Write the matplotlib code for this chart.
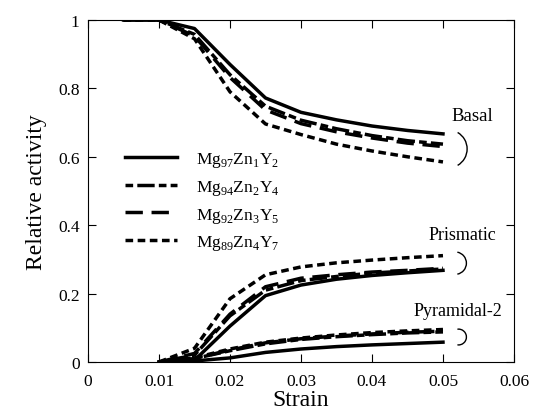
import matplotlib.pyplot as plt
import numpy as np
from matplotlib.patches import Arc
from matplotlib.transforms import ScaledTranslation
from matplotlib.ticker import FormatStrFormatter, MultipleLocator

plt.rcParams['font.family'] = ['Liberation Serif', 'DejaVu Serif']
plt.rcParams['mathtext.fontset'] = 'custom'
plt.rcParams['mathtext.rm'] = 'Liberation Serif'

# strain points
strain = [0.005, 0.01, 0.015, 0.02, 0.025, 0.03, 0.035, 0.04, 0.045, 0.05]
strain_np = [0.01, 0.015, 0.02, 0.025, 0.03, 0.035, 0.04, 0.045, 0.05]

alloys = ['Mg$_{97}$Zn$_{1}$Y$_{2}$', 'Mg$_{94}$Zn$_{2}$Y$_{4}$',
          'Mg$_{92}$Zn$_{3}$Y$_{5}$', 'Mg$_{89}$Zn$_{4}$Y$_{7}$']

# basal
basal = [
    [1.0, 1.0, 0.975, 0.87, 0.772, 0.73, 0.708, 0.69, 0.677, 0.667],
    [1.0, 1.0, 0.958, 0.84, 0.748, 0.707, 0.682, 0.662, 0.647, 0.637],
    [1.0, 1.0, 0.953, 0.832, 0.737, 0.697, 0.673, 0.655, 0.640, 0.630],
    [1.0, 1.0, 0.945, 0.79, 0.696, 0.665, 0.637, 0.617, 0.600, 0.585],
]
# prismatic
prism = [
    [0.0, 0.005, 0.105, 0.194, 0.225, 0.242, 0.253, 0.261, 0.268],
    [0.0, 0.02, 0.135, 0.21, 0.238, 0.250, 0.260, 0.266, 0.272],
    [0.0, 0.025, 0.14, 0.22, 0.245, 0.255, 0.263, 0.268, 0.274],
    [0.0, 0.04, 0.185, 0.255, 0.278, 0.290, 0.298, 0.305, 0.311],
]
# pyramidal-2
pyr = [
    [0.0, 0.003, 0.012, 0.028, 0.038, 0.045, 0.050, 0.054, 0.058],
    [0.0, 0.01, 0.033, 0.053, 0.066, 0.074, 0.080, 0.085, 0.088],
    [0.0, 0.01, 0.035, 0.056, 0.068, 0.076, 0.082, 0.087, 0.090],
    [0.0, 0.012, 0.038, 0.058, 0.070, 0.079, 0.086, 0.091, 0.095],
]

dashes = [None, (2.2, 1.2, 5, 1.2), (5, 2.5), (2.2, 1.3)]

fig = plt.figure(figsize=(5.35, 4.14), dpi=100)
ax = fig.add_axes([0.1645, 0.1232, 0.7962, 0.8261])

for i in range(4):
    kw = dict(color='black', lw=2.5)
    if dashes[i] is not None:
        kw['dashes'] = dashes[i]
    ax.plot(strain, basal[i], label=alloys[i], **kw)
    ax.plot(strain_np, prism[i], **kw)
    ax.plot(strain_np, pyr[i], **kw)

ax.set_xlim(0, 0.06)
ax.set_ylim(0, 1)
ax.xaxis.set_major_locator(MultipleLocator(0.01))
ax.yaxis.set_major_locator(MultipleLocator(0.2))
ax.xaxis.set_major_formatter(FormatStrFormatter('%g'))
ax.yaxis.set_major_formatter(FormatStrFormatter('%g'))
ax.tick_params(direction='in', top=True, right=True, length=6, labelsize=12.5)
ax.tick_params(axis='x', pad=8)
ax.tick_params(axis='y', pad=6)
ax.set_xlabel('Strain', fontsize=17, labelpad=0)
ax.set_ylabel('Relative activity', fontsize=17, labelpad=8)

# group labels
ax.text(0.0542, 0.72, 'Basal', fontsize=13.5, ha='center', va='center')
ax.text(0.0527, 0.374, 'Prismatic', fontsize=13, ha='center', va='center')
ax.text(0.0521, 0.152, 'Pyramidal-2', fontsize=13, ha='center', va='center')

# brackets: (right edge x, center y, radius in inches, half angle)
for ex, cy, r, th in [(0.0534, 0.623, 0.19, 60), (0.0533, 0.289, 0.112, 79),
                      (0.0533, 0.073, 0.079, 98)]:
    tr = fig.dpi_scale_trans + ScaledTranslation(ex, cy, ax.transData)
    ax.add_patch(Arc((-r, 0), 2 * r, 2 * r, theta1=-th, theta2=th,
                     color='black', lw=1.0, transform=tr, clip_on=False))

ax.legend(loc='upper left', bbox_to_anchor=(0.05, 0.665), frameon=False,
          fontsize=12.5, handlelength=3.0, labelspacing=0.5, handletextpad=1.1)

plt.savefig('out.png', dpi=100)
